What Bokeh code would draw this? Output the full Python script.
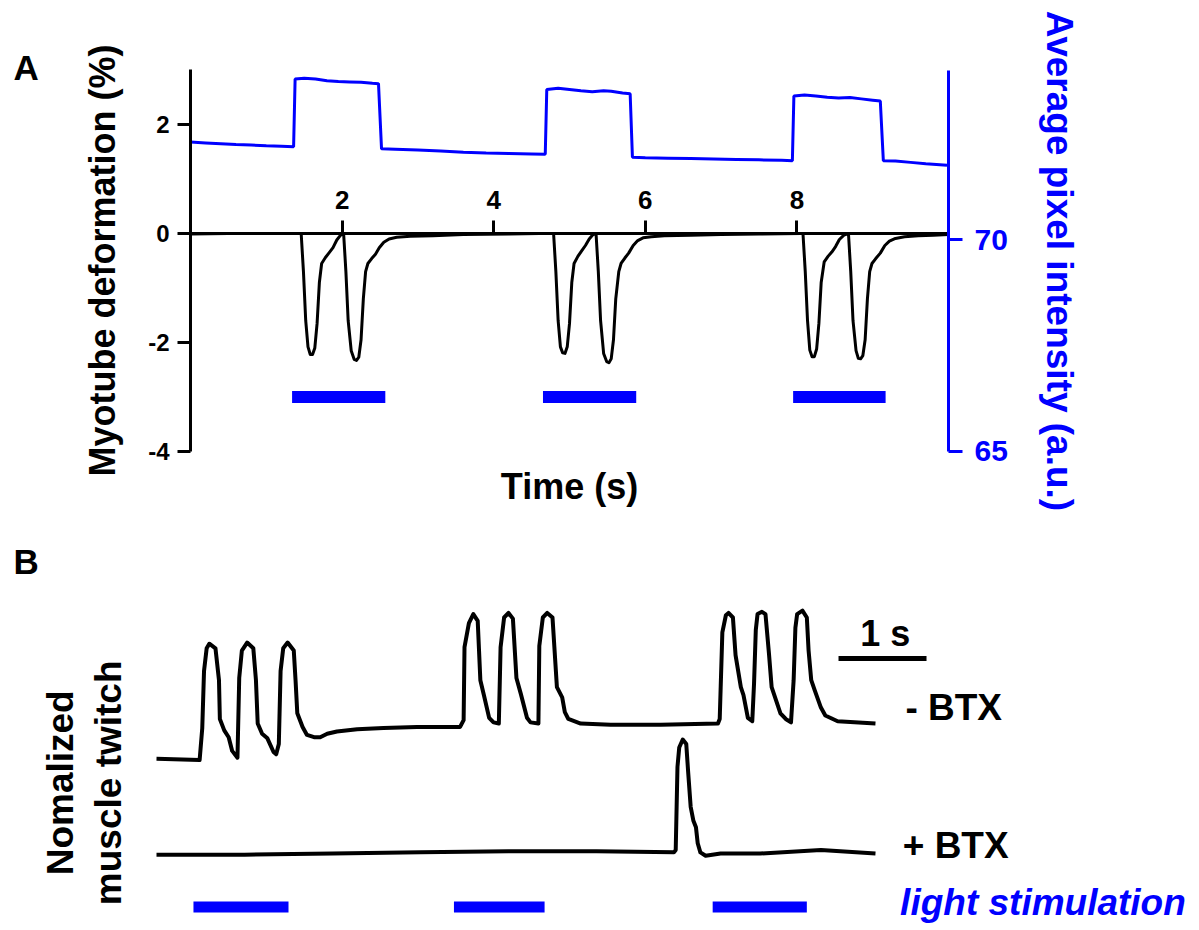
from bokeh.plotting import figure
from bokeh.models import Range1d, LinearAxis, FixedTicker, Label
from bokeh.embed import file_html
from bokeh.resources import INLINE

# ---------------- Panel A data ----------------
# Average pixel intensity (right axis, a.u.)
intensity_t = [0.0, 0.2, 0.4, 0.6, 0.8, 1.0, 1.2, 1.36, 1.38, 1.5, 1.65, 1.8, 1.95, 2.1, 2.25, 2.4, 2.48,
               2.52, 2.7, 3.0, 3.3, 3.6, 3.9, 4.2, 4.5, 4.68, 4.70, 4.85, 5.0, 5.15, 5.3, 5.45, 5.55, 5.7, 5.80,
               5.83, 6.0, 6.3, 6.6, 6.9, 7.2, 7.5, 7.8, 7.94, 7.96, 8.1, 8.25, 8.4, 8.55, 8.7, 8.85, 9.0, 9.10,
               9.14, 9.3, 9.5, 9.7, 9.98]
intensity_v = [72.31, 72.29, 72.27, 72.25, 72.24, 72.22, 72.21, 72.20, 73.80, 73.82, 73.80, 73.76, 73.74, 73.73, 73.72, 73.70, 73.69,
               72.15, 72.14, 72.12, 72.10, 72.07, 72.05, 72.04, 72.03, 72.02, 73.55, 73.58, 73.55, 73.52, 73.50, 73.52, 73.51, 73.47, 73.45,
               71.95, 71.94, 71.93, 71.92, 71.91, 71.90, 71.89, 71.88, 71.87, 73.40, 73.42, 73.40, 73.37, 73.35, 73.36, 73.33, 73.30, 73.28,
               71.87, 71.86, 71.83, 71.80, 71.76]

# Myotube deformation (left axis, %)
deform_t = [0.0, 0.5, 1.0, 1.46, 1.49, 1.52, 1.55, 1.58, 1.61, 1.64, 1.67, 1.70, 1.73, 1.78, 1.83, 1.88, 1.93, 1.98, 2.02,
            2.05, 2.08, 2.12, 2.16, 2.19, 2.22, 2.25, 2.28, 2.31, 2.34, 2.39, 2.44, 2.49, 2.55, 2.62, 2.72, 2.9, 3.2, 3.6, 4.2, 4.6,
            4.79, 4.82, 4.85, 4.88, 4.91, 4.94, 4.97, 5.00, 5.03, 5.06, 5.11, 5.16, 5.21, 5.26, 5.31, 5.35,
            5.38, 5.41, 5.45, 5.49, 5.52, 5.55, 5.58, 5.61, 5.65, 5.68, 5.73, 5.78, 5.84, 5.90, 5.97, 6.08, 6.25, 6.6, 7.0, 7.5, 8.05,
            8.08, 8.11, 8.14, 8.17, 8.20, 8.23, 8.26, 8.29, 8.32, 8.36, 8.41, 8.46, 8.51, 8.56, 8.62, 8.68,
            8.71, 8.74, 8.78, 8.81, 8.84, 8.87, 8.90, 8.93, 8.96, 8.99, 9.04, 9.10, 9.16, 9.22, 9.30, 9.42, 9.6, 9.8, 10.0]
deform_v = [-0.01, 0.0, 0.0, 0.0, -0.7, -1.6, -2.08, -2.22, -2.22, -2.1, -1.65, -0.9, -0.55, -0.44, -0.35, -0.26, -0.12, -0.03, 0.0,
            -0.7, -1.6, -2.15, -2.31, -2.33, -2.27, -1.95, -1.2, -0.7, -0.55, -0.46, -0.38, -0.26, -0.16, -0.10, -0.07, -0.05, -0.04, -0.02, -0.01, 0.0,
            0.0, -0.7, -1.6, -2.08, -2.19, -2.2, -2.08, -1.65, -0.9, -0.55, -0.42, -0.32, -0.22, -0.10, -0.02, 0.0,
            -0.7, -1.6, -2.2, -2.35, -2.37, -2.3, -1.95, -1.2, -0.7, -0.55, -0.45, -0.36, -0.22, -0.13, -0.08, -0.06, -0.04, -0.03, -0.02, -0.01, 0.0,
            0.0, -0.7, -1.6, -2.14, -2.26, -2.26, -2.12, -1.65, -0.9, -0.52, -0.42, -0.34, -0.24, -0.11, -0.03, 0.0,
            -0.7, -1.6, -2.15, -2.29, -2.3, -2.24, -1.95, -1.2, -0.7, -0.55, -0.46, -0.36, -0.22, -0.14, -0.09, -0.06, -0.04, -0.03, -0.02]

stimA_start = [1.34, 4.65, 7.95]
stimA_end = [2.57, 5.88, 9.17]
stimA_level = [-3, -3, -3]

deform_ticks = [-4, -2, 0, 2]
deform_tick_text = {-4: "-4", -2: "-2"}
time_ticks = [2, 4, 6, 8]
intensity_ticks = [65, 70]

# ---------------- Panel B data ----------------
minus_t = [0.0, 0.49, 0.52, 0.54, 0.57, 0.60, 0.67, 0.71, 0.72, 0.77, 0.82, 0.86, 0.92,
           0.94, 0.97, 1.03, 1.10, 1.13, 1.15, 1.20, 1.26, 1.33, 1.36,
           1.39, 1.41, 1.44, 1.49, 1.56, 1.58, 1.60, 1.66, 1.71, 1.79, 1.86, 1.94, 2.05, 2.28, 2.58, 2.96, 3.45,
           3.49, 3.50, 3.55, 3.60, 3.65, 3.68, 3.72, 3.78, 3.83, 3.89,
           3.91, 3.95, 4.00, 4.05, 4.09, 4.14, 4.21, 4.25, 4.34,
           4.35, 4.39, 4.44, 4.50, 4.55, 4.61, 4.64, 4.68, 4.82, 5.16, 5.73, 6.38,
           6.40, 6.43, 6.47, 6.50, 6.55, 6.58, 6.64, 6.67, 6.72, 6.77,
           6.79, 6.81, 6.83, 6.88, 6.92, 6.96, 6.99, 7.09, 7.15, 7.21,
           7.24, 7.26, 7.28, 7.34, 7.39, 7.41, 7.44, 7.48, 7.55, 7.60, 7.74, 8.17]
minus_v = [0.83, 0.82, 1.10, 1.60, 1.80, 1.84, 1.80, 1.52, 1.18, 1.08, 1.02, 0.90, 0.84,
           1.54, 1.78, 1.85, 1.80, 1.52, 1.14, 1.05, 1.01, 0.89, 0.87,
           0.96, 1.60, 1.80, 1.85, 1.78, 1.52, 1.23, 1.11, 1.04, 1.02, 1.02, 1.05, 1.07, 1.09, 1.10, 1.11, 1.11,
           1.17, 1.81, 2.02, 2.10, 2.04, 1.52, 1.39, 1.19, 1.15, 1.14,
           1.81, 2.07, 2.11, 2.06, 1.54, 1.40, 1.19, 1.15, 1.14,
           1.82, 2.07, 2.11, 2.07, 1.46, 1.37, 1.24, 1.18, 1.14, 1.13, 1.13, 1.14,
           1.18, 1.94, 2.09, 2.11, 2.07, 1.74, 1.46, 1.39, 1.19, 1.16,
           1.49, 1.96, 2.10, 2.12, 2.10, 1.75, 1.46, 1.23, 1.18, 1.15,
           1.52, 1.98, 2.10, 2.13, 2.07, 1.78, 1.52, 1.43, 1.28, 1.21, 1.16, 1.14]

plus_t = [0.0, 1.0, 2.0, 3.0, 4.0, 5.0, 5.88, 5.90, 5.92, 5.94, 5.98, 6.02, 6.04, 6.07, 6.10, 6.13, 6.15, 6.18, 6.24,
          6.41, 6.86, 7.55, 8.17]
plus_v = [-0.01, -0.01, 0.0, 0.01, 0.02, 0.02, 0.01, 0.03, 0.76, 0.93, 1.0, 0.96, 0.73, 0.41, 0.29, 0.23, 0.09, 0.01, -0.02,
          0.0, 0.0, 0.03, 0.0]

stimB_start = [0.42, 3.38, 6.32]
stimB_end = [1.50, 4.41, 7.39]
stimB_level = [-0.47, -0.47, -0.47]

scale_start = [7.75]
scale_end = [8.75]
scale_level = [1.71]

BLUE = "#0000ff"
FONT = "Liberation Sans"

# One canvas; panel A uses the default ranges (time, deformation) and "pix",
# panel B uses "tb" / "vb".
p = figure(width=1199, height=930,
           x_range=Range1d(-2.5066, 13.311), y_range=Range1d(-12.789, 4.2752),
           output_backend="svg", toolbar_location=None,
           x_axis_location=None, y_axis_location=None,
           min_border_left=0, min_border_right=0, min_border_top=0, min_border_bottom=0)
p.extra_y_ranges = {"pix": Range1d(53.684, 75.654), "vb": Range1d(-0.6754, 7.482)}
p.extra_x_ranges = {"tb": Range1d(-1.7727, 11.852)}
p.outline_line_color = None
p.grid.visible = False

# ---- Panel A axes ----
yl = LinearAxis(fixed_location=0, bounds=(-4, 3), ticker=FixedTicker(ticks=deform_ticks),
                major_label_overrides=deform_tick_text,
                axis_label="Myotube deformation (%)",
                axis_line_width=3, major_tick_line_width=3, major_tick_out=13, major_tick_in=0,
                minor_tick_line_color=None, major_label_standoff=8,
                major_label_text_font=FONT, major_label_text_font_style="bold", major_label_text_font_size="24px",
                major_label_text_color="black",
                axis_label_text_font=FONT, axis_label_text_font_style="bold", axis_label_text_font_size="36px",
                axis_label_text_color="black", axis_label_standoff=22)
p.add_layout(yl, "left")

yr = LinearAxis(y_range_name="pix", fixed_location=10, bounds=(65, 74), ticker=FixedTicker(ticks=intensity_ticks),
                axis_label="Average pixel intensity (a.u.)",
                axis_line_width=3, axis_line_color=BLUE, major_tick_line_width=3, major_tick_line_color=BLUE,
                major_tick_out=14, major_tick_in=0, minor_tick_line_color=None, major_label_standoff=12,
                major_label_text_font=FONT, major_label_text_font_style="bold", major_label_text_font_size="30px",
                major_label_text_color=BLUE,
                axis_label_text_font=FONT, axis_label_text_font_style="bold", axis_label_text_font_size="37px",
                axis_label_text_color=BLUE, axis_label_standoff=28)
p.add_layout(yr, "right")

xt = LinearAxis(fixed_location=0, bounds=(0, 10), ticker=FixedTicker(ticks=time_ticks),
                axis_line_width=3, major_tick_line_width=3, major_tick_out=13, major_tick_in=0,
                minor_tick_line_color=None, major_label_standoff=11,
                major_label_text_font=FONT, major_label_text_font_style="bold", major_label_text_font_size="26px",
                major_label_text_color="black")
p.add_layout(xt, "above")

xb = LinearAxis(fixed_location=-4, bounds=(0, 10), ticker=FixedTicker(ticks=[]), axis_label="Time (s)",
                axis_line_color=None, major_tick_line_color=None, minor_tick_line_color=None,
                major_tick_out=0, major_label_standoff=0,
                axis_label_text_font=FONT, axis_label_text_font_style="bold", axis_label_text_font_size="36px",
                axis_label_text_color="black", axis_label_standoff=14)
p.add_layout(xb, "below")

# ---- Panel A data marks ----
p.line(intensity_t, intensity_v, line_color=BLUE, line_width=3, y_range_name="pix")
p.line(deform_t, deform_v, line_color="black", line_width=3, line_join="round")
p.segment(x0=stimA_start, x1=stimA_end, y0=stimA_level, y1=stimA_level, line_color=BLUE, line_width=12)

p.add_layout(Label(x=-2.335, y=3.055, text="A", text_font=FONT, text_font_style="bold",
                   text_font_size="35px", text_color="black", text_align="left", text_baseline="middle"))

# ---- Panel B data marks ----
p.line(minus_t, minus_v, line_color="black", line_width=4, line_join="round",
       x_range_name="tb", y_range_name="vb")
p.line(plus_t, plus_v, line_color="black", line_width=4, line_join="round",
       x_range_name="tb", y_range_name="vb")
p.segment(x0=stimB_start, x1=stimB_end, y0=stimB_level, y1=stimB_level, line_color=BLUE, line_width=11,
          x_range_name="tb", y_range_name="vb")
p.segment(x0=scale_start, x1=scale_end, y0=scale_level, y1=scale_level, line_color="black", line_width=5,
          x_range_name="tb", y_range_name="vb")


def lab(x, y, text, size="37px", color="black", align="left", style="bold", angle=0.0):
    p.add_layout(Label(x=x, y=y, text=text, text_font=FONT, text_font_style=style, text_font_size=size,
                       text_color=color, text_align=align, text_baseline="middle", angle=angle,
                       x_range_name="tb", y_range_name="vb"))


lab(-1.625, 2.557, "B", size="35px")
lab(8.28, 1.93, "1 s", size="36px", align="center")
lab(8.51, 1.28, "- BTX")
lab(8.48, 0.07, "+ BTX")
lab(8.45, -0.43, "light stimulation", color=BLUE, style="bold italic")
lab(-1.09, 0.62, "Nomalized", align="center", angle=1.5708)
lab(-0.545, 0.62, "muscle twitch", align="center", angle=1.5708)

open("out.html", "w").write(file_html(p, INLINE))
